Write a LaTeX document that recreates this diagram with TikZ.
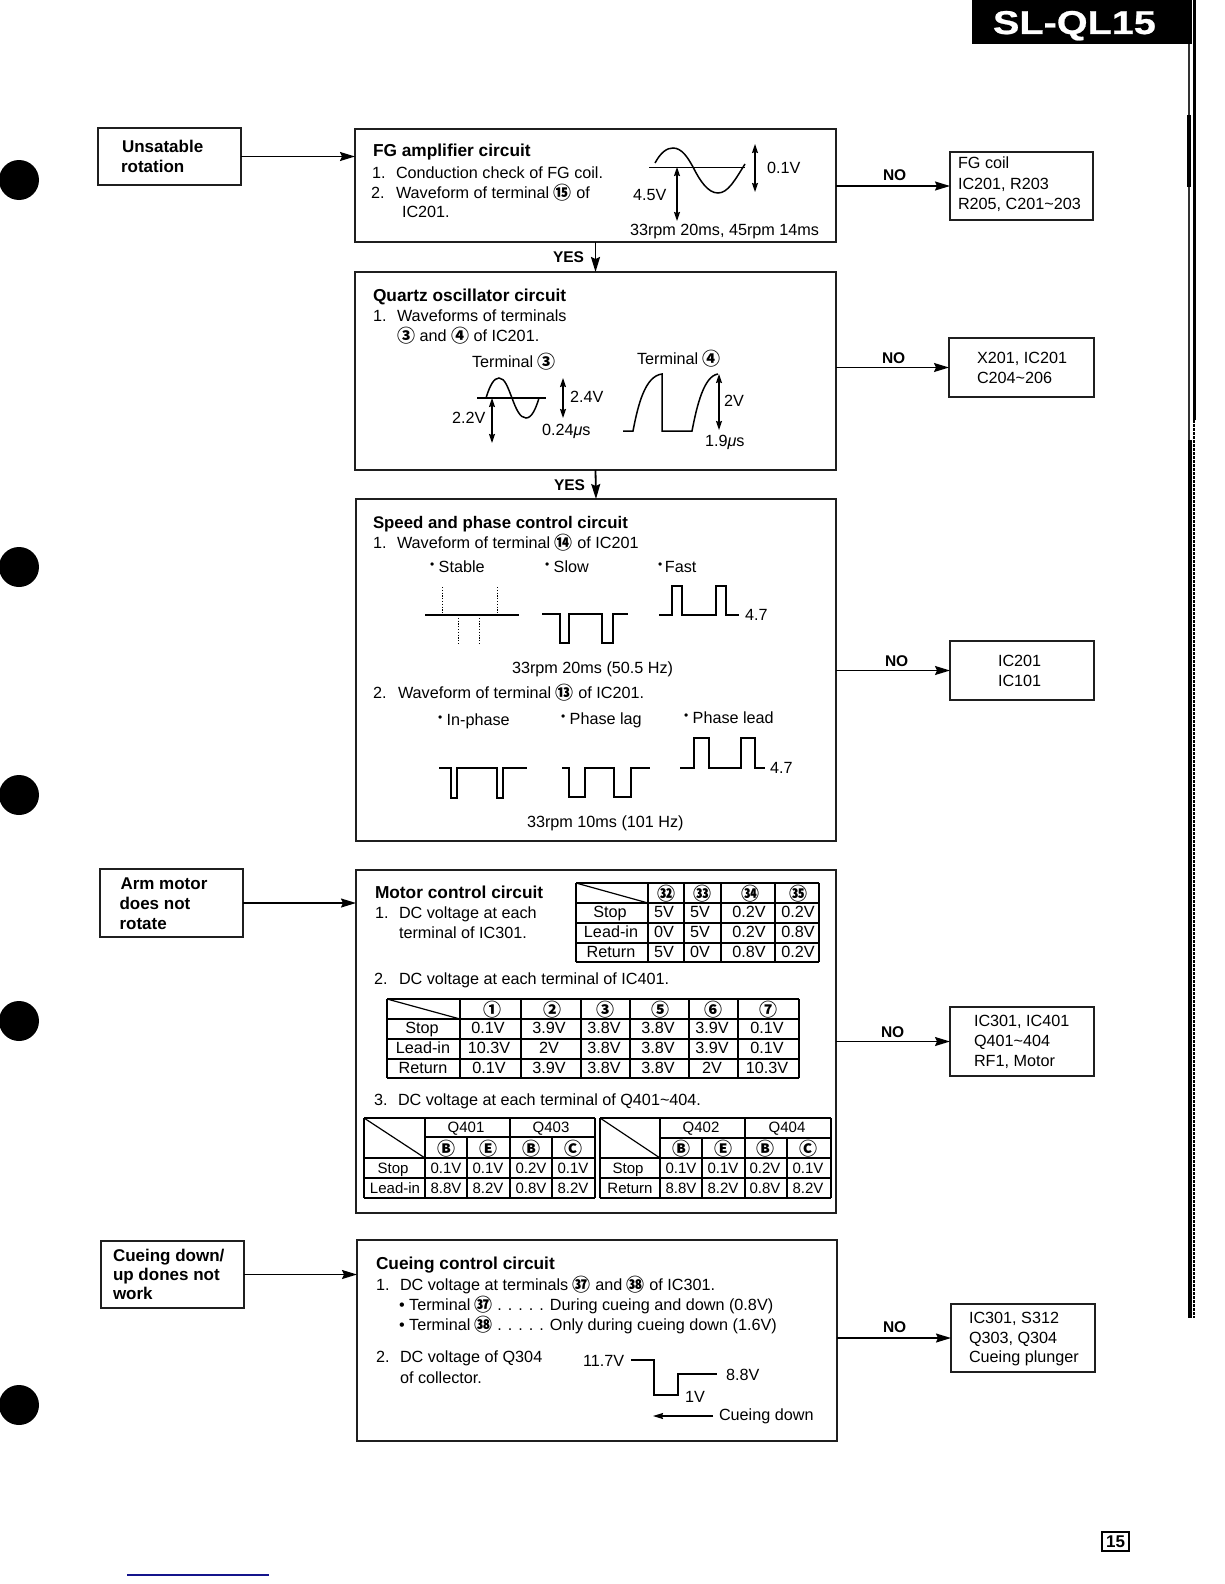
\documentclass[tikz,border=0pt]{standalone}
\usepackage{fontspec}
\usetikzlibrary{arrows.meta}
\setmainfont{Liberation Sans}
\newfontfamily\cjkf{Noto Sans CJK JP}
\newfontfamily\hdrfont[FakeStretch=1.2,FakeBold=0.7]{Liberation Sans}
\newcommand\fbody{\fontsize{16.2}{18}\selectfont}
\newcommand\ftitle{\fontsize{17.3}{19}\selectfont\bfseries}
\newcommand\fside{\fontsize{17}{19}\selectfont\bfseries}
\newcommand\fflag{\fontsize{15.5}{17}\selectfont\bfseries}
\newcommand\fsmall{\fontsize{15}{17}\selectfont}
\newcommand\curf{\fbody}
\newcommand\cc[1]{\raisebox{-1pt}{\cjkf\bfseries\fontsize{18}{18}\selectfont #1}}
\newcommand\tld{\symbol{126}}
\newcommand\mus{{\itshape μ}s}
\newcommand\rb{\raisebox{3.5pt}{\fontsize{12}{12}\selectfont •}}
\newcounter{tn}
\tikzset{
  lbl/.style={inner sep=0pt,outer sep=0pt,font=\curf,text=black},
  lw/.style={lbl,anchor=base west},
  lc/.style={lbl,anchor=base},
  bx/.style={draw=black!88,line width=1.2pt,rectangle,inner sep=0pt,outer sep=0pt,anchor=north west,fill=white},
  conn/.style={draw=black,line width=1.5pt,-{Stealth[length=15pt,width=9pt,inset=2pt]}},
  yesconn/.style={draw=black,line width=1.8pt,-{Stealth[length=15pt,width=9pt,inset=2pt]}},
  wave/.style={draw=black,line width=1.5pt,line join=miter},
  dbl/.style={draw=black,line width=1.2pt,{Stealth[length=9pt,width=6pt,inset=1pt]}-{Stealth[length=9pt,width=6pt,inset=1pt]}},
  tb/.style={draw=black,line width=1.2pt},
}
\newcommand\TT[3][]{\stepcounter{tn}\node[lw,#1] (t\arabic{tn}) at (#2) {#3};}
\newcommand\CC[3][]{\stepcounter{tn}\node[lc,#1] (t\arabic{tn}) at (#2) {#3};}
\newcommand\RowT[2]{\foreach \aa/\bb in {#2} {\CC{\aa,#1}{\bb}}}
\newcommand\BX[5]{\node[bx,minimum width=#4pt-#2pt,minimum height=#5pt-#3pt] (#1) at (#2,#3) {};}
\begin{document}
\begin{tikzpicture}[x=1pt,y=-1pt]
\useasboundingbox (0,0) rectangle (1224,1584);
\fill[white] (0,0) rectangle (1224,1584);
% punched holes
\foreach \yy in {180,567,795,1021,1405} \fill[black] (19,\yy) circle[radius=20];
% header and right rule
\fill[black] (972,0) rectangle (1192,44);
\node[lw,font={\hdrfont\bfseries\fontsize{33}{35}\selectfont},text=white] (hdr) at (993,34) {SL-QL15};
\draw[black!80,line width=2pt] (1188.5,44) -- (1188.5,1318);
\draw[black,line width=2.4pt] (1194.5,0) -- (1194.5,420);
\draw[black,line width=4pt] (1189,115) -- (1189,187);
\draw[black,line width=4pt] (1190,440) -- (1190,1318);
\draw[black,line width=2.4pt,dash pattern=on 3pt off 1pt] (1194,420) -- (1194,1318);
% page number and bottom rule
\node[draw=black,line width=1.5pt,inner sep=0pt,minimum width=27pt,minimum height=19pt,font=\bfseries\fontsize{17}{19}\selectfont] (pg) at (1115.5,1541.5) {15};
\draw[color={rgb,255:red,20;green,20;blue,140},line width=1.2pt] (127,1575) -- (269,1575);
% boxes
\BX{unst}{98}{128}{241}{185}
\BX{arm}{100}{869}{243}{937}
\BX{cue}{101}{1241}{244}{1308}
\BX{fg}{355}{129}{836}{242}
\BX{qz}{355}{272}{836}{470}
\BX{sp}{356}{499}{836}{841}
\BX{mot}{356}{870}{836}{1213}
\BX{cuc}{357}{1240}{837}{1441}
\BX{rfg}{950}{152}{1093}{220}
\BX{rqz}{949}{338}{1094}{397}
\BX{rsp}{950}{641}{1094}{700}
\BX{rmot}{950}{1007}{1094}{1076}
\BX{rcue}{951}{1304}{1095}{1372}
% connectors
\draw[conn] (unst.east) -- (unst.east -| fg.west);
\draw[conn] (arm.east) -- (arm.east -| mot.west);
\draw[conn] (cue.east) -- (cue.east -| cuc.west);
\draw[conn] (fg.east |- rfg.west) -- (rfg.west);
\draw[conn] (qz.east |- rqz.west) -- (rqz.west);
\draw[conn] (sp.east |- rsp.west) -- (rsp.west);
\draw[conn] (mot.east |- rmot.west) -- (rmot.west);
\draw[conn] (cuc.east |- rcue.west) -- (rcue.west);
\draw[yesconn] (fg.south) -- (qz.north);
\draw[yesconn] (qz.south) -- (sp.north);
% flags
\begin{scope}\renewcommand\curf{\fflag}
\TT{553,262}{YES}\TT{554,490}{YES}
\TT{883,180}{NO}\TT{882,363}{NO}\TT{885,666}{NO}\TT{881,1037}{NO}\TT{883,1332}{NO}
\end{scope}
% left labels
\begin{scope}\renewcommand\curf{\fside}
\TT{122,152}{Unsatable}\TT{121,172}{rotation}
\TT{120.5,889}{Arm motor}\TT{119.5,909}{does not}\TT{119.5,929}{rotate}
\TT{113,1261}{Cueing down/}\TT{113,1280}{up dones not}\TT{113,1299}{work}
\end{scope}
% right labels
\TT{958,168}{FG coil}\TT{958,189}{IC201, R203}\TT{958,209}{R205, C201\tld203}
\TT{977,363}{X201, IC201}\TT{977,383}{C204\tld206}
\TT{998,666}{IC201}\TT{998,686}{IC101}
\TT{974,1026}{IC301, IC401}\TT{974,1046}{Q401\tld404}\TT{974,1066}{RF1, Motor}
\TT{969,1323}{IC301, S312}\TT{969,1343}{Q303, Q304}\TT{969,1362}{Cueing plunger}
% ---------- box 1
\begin{scope}\renewcommand\curf{\ftitle}\TT{373,157}{FG amplifier circuit}\end{scope}
\TT{372,178}{1.}\TT{396,178}{Conduction check of FG coil.}
\TT{371,198}{2.}\TT{396,198}{Waveform of terminal \cc{⑮} of}
\TT{402,217}{IC201.}
\draw[wave,line width=1pt] (649,167) -- (745,167);
\draw[wave] (655,163) .. controls (661,152) and (667,148) .. (673,148) .. controls (682,148) and (688,158) .. (693,167) .. controls (700,181) and (708,193) .. (718,193) .. controls (728,193) and (735,180) .. (745,164);
\draw[dbl] (755,144) -- (755,192);
\draw[dbl] (677,167) -- (677,221);
\TT{767,173}{0.1V}\TT{633,200}{4.5V}
\TT{630,235}{33rpm 20ms, 45rpm 14ms}
% ---------- box 2
\begin{scope}\renewcommand\curf{\ftitle}\TT{373,301}{Quartz oscillator circuit}\end{scope}
\TT{373,321}{1.}\TT{397,321}{Waveforms of terminals}
\TT{397,341}{\cc{③} and \cc{④} of IC201.}
\TT{472,367}{Terminal \cc{③}}\TT{637,364}{Terminal \cc{④}}
\draw[wave] (477,398) -- (546,398);
\draw[wave] (486,398) .. controls (490,385) and (494,378) .. (499,378) .. controls (505,378) and (508,388) .. (512,398) .. controls (516,409) and (520,418) .. (526,418) .. controls (532,418) and (536,408) .. (539,398);
\draw[dbl] (563,378) -- (563,418);
\draw[dbl] (492,398) -- (492,443);
\TT{570,402}{2.4V}\TT{452,423}{2.2V}\TT{542,435}{0.24\mus}
\draw[wave] (623,431) -- (633,431) .. controls (638,405) and (645,376) .. (662,374) -- (662,431) -- (692,431) .. controls (697,405) and (704,376) .. (718,374);
\draw[dbl] (719,374) -- (719,430);
\TT{724,406}{2V}\TT{705,446}{1.9\mus}
% ---------- box 3
\begin{scope}\renewcommand\curf{\fontsize{16.8}{19}\selectfont\bfseries}\TT{373,528}{Speed and phase control circuit}\end{scope}
\TT{373,548}{1.}\TT{397,548}{Waveform of terminal \cc{⑭} of IC201}
\TT{430,572}{\rb\ Stable}\TT{545,572}{\rb\ Slow}\TT{658,572}{\rb\,Fast}
\draw[wave] (425,615) -- (519,615);
\foreach \xx in {442,497} \draw[black,line width=1pt,dash pattern=on 1.2pt off 1.6pt] (\xx,587) -- (\xx,615);
\foreach \xx in {458,479} \draw[black,line width=1pt,dash pattern=on 1.2pt off 1.6pt] (\xx,615) -- (\xx,644);
\draw[wave] (542,614) -- (560,614) -- (560,643) -- (569,643) -- (569,614) -- (602,614) -- (602,643) -- (613,643) -- (613,614) -- (628,614);
\draw[wave] (659,615) -- (672,615) -- (672,586) -- (682,586) -- (682,615) -- (716,615) -- (716,586) -- (726,586) -- (726,615) -- (739,615);
\TT{745,620}{4.7}
\TT{512,673}{33rpm 20ms (50.5 Hz)}
\TT{373,698}{2.}\TT{398,698}{Waveform of terminal \cc{⑬} of IC201.}
\TT{438,725}{\rb\ In-phase}\TT{561,724}{\rb\ Phase lag}\TT{684,723}{\rb\ Phase lead}
\draw[wave] (439,768) -- (451,768) -- (451,798) -- (457,798) -- (457,768) -- (497,768) -- (497,798) -- (503,798) -- (503,768) -- (527,768);
\draw[wave] (562,768) -- (569,768) -- (569,797) -- (585,797) -- (585,768) -- (614,768) -- (614,797) -- (631,797) -- (631,768) -- (650,768);
\draw[wave] (680,768) -- (694,768) -- (694,738) -- (709,738) -- (709,768) -- (741,768) -- (741,738) -- (755,738) -- (755,768) -- (765,768);
\TT{770,773}{4.7}
\TT{527,827}{33rpm 10ms (101 Hz)}
% ---------- box 4
\begin{scope}\renewcommand\curf{\ftitle}\TT{375,898}{Motor control circuit}\end{scope}
\TT{375,918}{1.}\TT{399,918}{DC voltage at each}\TT{399,938}{terminal of IC301.}
\foreach \xx in {576,648,684,721,775,819} \draw[tb] (\xx,883) -- (\xx,962);
\foreach \yy in {883,903,923,943,962} \draw[tb] (576,\yy) -- (819,\yy);
\draw[tb] (576,883) -- (648,903);
\CC{666,899}{\cc{㉜}}\CC{702.5,899}{\cc{㉝}}\CC{750,899}{\cc{㉞}}\CC{798,899}{\cc{㉟}}
\RowT{917}{610/Stop,664/5V,700/5V,749/0.2V,798/0.2V}
\RowT{937}{611/Lead-in,664/0V,700/5V,749/0.2V,798/0.8V}
\RowT{957}{611/Return,664/5V,700/0V,749/0.8V,798/0.2V}
\TT{374,984}{2.}\TT{399,984}{DC voltage at each terminal of IC401.}
\foreach \xx in {387,460,521,581,630,689,738,799} \draw[tb] (\xx,999) -- (\xx,1078);
\foreach \yy in {999,1019,1039,1059,1078} \draw[tb] (387,\yy) -- (799,\yy);
\draw[tb] (387,999) -- (460,1019);
\CC{492,1015}{\cc{①}}\CC{552,1015}{\cc{②}}\CC{605,1015}{\cc{③}}\CC{660,1015}{\cc{⑤}}\CC{713,1015}{\cc{⑥}}\CC{768,1015}{\cc{⑦}}
\RowT{1033}{422/Stop,488/0.1V,549/3.9V,604/3.8V,658/3.8V,712/3.9V,767/0.1V}
\RowT{1053}{423/Lead-in,489/10.3V,549/2V,604/3.8V,658/3.8V,712/3.9V,767/0.1V}
\RowT{1073}{423/Return,489/0.1V,549/3.9V,604/3.8V,658/3.8V,712/2V,767/10.3V}
\TT{374,1105}{3.}\TT{398,1105}{DC voltage at each terminal of Q401\tld404.}
% table 3a
\foreach \xx in {364,425,510,595} \draw[tb] (\xx,1118) -- (\xx,1198);
\foreach \xx in {467,552} \draw[tb] (\xx,1137) -- (\xx,1198);
\draw[tb] (364,1118) -- (595,1118);
\draw[tb] (425,1137) -- (595,1137);
\foreach \yy in {1158,1178,1198} \draw[tb] (364,\yy) -- (595,\yy);
\draw[tb] (364,1118) -- (425,1158);
% table 3b
\foreach \xx in {600,660,745,831} \draw[tb] (\xx,1118) -- (\xx,1198);
\foreach \xx in {702,787} \draw[tb] (\xx,1138) -- (\xx,1198);
\draw[tb] (600,1118) -- (831,1118);
\draw[tb] (660,1138) -- (831,1138);
\foreach \yy in {1158,1178,1198} \draw[tb] (600,\yy) -- (831,\yy);
\draw[tb] (600,1118) -- (660,1158);
\begin{scope}\renewcommand\curf{\fsmall}
\CC{466,1132}{Q401}\CC{551,1132}{Q403}\CC{701,1132}{Q402}\CC{787,1132}{Q404}
\CC{446,1154}{\cc{Ⓑ}}\CC{488,1154}{\cc{Ⓔ}}\CC{531,1154}{\cc{Ⓑ}}\CC{573,1154}{\cc{Ⓒ}}
\CC{681,1154}{\cc{Ⓑ}}\CC{723,1154}{\cc{Ⓔ}}\CC{765,1154}{\cc{Ⓑ}}\CC{808,1154}{\cc{Ⓒ}}
\RowT{1173}{393/Stop,446/0.1V,488/0.1V,531/0.2V,573/0.1V,628/Stop,681/0.1V,723/0.1V,765/0.2V,808/0.1V}
\RowT{1193}{395/Lead-in,446/8.8V,488/8.2V,531/0.8V,573/8.2V,630/Return,681/8.8V,723/8.2V,765/0.8V,808/8.2V}
\end{scope}
% ---------- box 5
\begin{scope}\renewcommand\curf{\ftitle}\TT{376,1269}{Cueing control circuit}\end{scope}
\TT{376,1290}{1.}\TT{400,1290}{DC voltage at terminals \cc{㊲} and \cc{㊳} of IC301.}
\TT{399,1310}{• Terminal \cc{㊲} . . . . . During cueing and down (0.8V)}
\TT{399,1330}{• Terminal \cc{㊳} . . . . . Only during cueing down (1.6V)}
\TT{376,1362}{2.}\TT{400,1362}{DC voltage of Q304}\TT{400,1383}{of collector.}
\TT{583,1366}{11.7V}
\draw[wave] (631,1360) -- (654,1360) -- (654,1395) -- (678,1395) -- (678,1374) -- (717,1374);
\TT{726,1380}{8.8V}\TT{685,1402}{1V}
\coordinate (cdr) at (713,1416);
\coordinate (cdl) at (653,1416);
\draw[draw=black,line width=1.2pt,-{Stealth[length=10pt,width=6pt,inset=1pt]}] (cdr) -- (cdl);
\TT{719,1420}{Cueing down}
\end{tikzpicture}
\end{document}
